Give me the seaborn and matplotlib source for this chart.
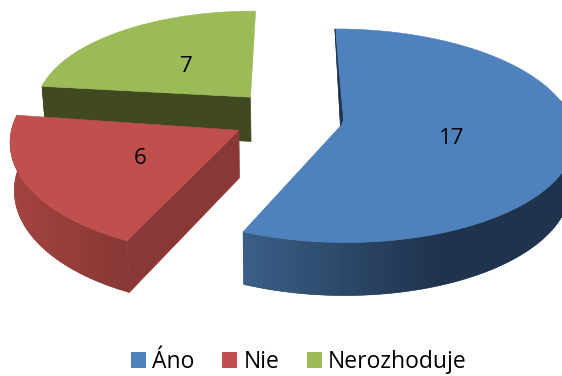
import numpy as np
import matplotlib
matplotlib.use("Agg")
import matplotlib.pyplot as plt
from matplotlib.colors import LinearSegmentedColormap
from matplotlib.patches import Patch, Polygon
import seaborn as sns

# Chart data
categories = ["Áno", "Nie", "Nerozhoduje"]
counts = [17, 6, 7]
top_colors = ["#4F81BD", "#C0504D", "#9BBB59"]
wall_light = ["#3B5F88", "#A44441", "#404A20"]
wall_dark = ["#1F334C", "#883835", "#404A20"]
radial_colors = ["#1F334C", "#8A3836", "#404920"]
shade_end_x = [440, 126, 260]

# Camera of the tilted, exploded pie, in pixel units
ORIGIN_X, ORIGIN_Y = 286, 121
SCALE_X, SCALE_Y = 232, 105
PERSPECTIVE = 0.09
EXPLODE = 0.232
BASE_SHRINK = 0.985

# Per-slice fine placement
slice_width = [1.0, 0.97, 0.93]
slice_height = [1.0, 1.05, 0.92]
slice_shift_x = [1.5, 0, 0]
slice_shift_y = [0, -3, -6]
slice_turn = [-0.3, 1.8, 0.7]
slice_depth = [48, 47, 45]

sns.set_theme(style="white")
plt.rcParams["font.family"] = ["Open Sans", "DejaVu Sans"]

fig = plt.figure(figsize=(5.62, 3.76), dpi=100)
ax = fig.add_axes([0, 0, 1, 1])


def project(i, theta, radius, offset, lower=False):
    """Map a polar position on slice i (clockwise from 12 o'clock) to the canvas."""
    turned = theta + np.radians(slice_turn[i])
    gx = offset[0]
    gy = offset[1]
    w0 = 1 - PERSPECTIVE * gy
    ax0, ay0 = SCALE_X * gx / w0, SCALE_Y * gy / w0
    gx += radius * np.sin(turned)
    gy -= radius * np.cos(turned)
    w = 1 - PERSPECTIVE * gy
    px = ax0 + (SCALE_X * gx / w - ax0) * slice_width[i]
    py = ay0 + (SCALE_Y * gy / w - ay0) * slice_height[i]
    y = ORIGIN_Y + slice_shift_y[i] + py
    x = ORIGIN_X + slice_shift_x[i]
    if lower:
        return x + px * BASE_SHRINK, y + slice_depth[i] / w
    return x + px, y


def fill(xs, ys, color, z):
    ax.fill(xs, ys, color=color, lw=0.4, ec=color, zorder=z)


shares = np.array(counts, dtype=float) / sum(counts) * 2 * np.pi
ends = np.cumsum(shares)
starts = ends - shares
z_order = {2: 1, 1: 2, 0: 3}

for i in [2, 1, 0]:
    a0, a1 = starts[i], ends[i]
    mid = (a0 + a1) / 2
    off = (EXPLODE * np.sin(mid), -EXPLODE * np.cos(mid))
    z = z_order[i] * 10

    # Straight cut walls that face the viewer
    if i in (1, 2):
        xt, yt = zip(project(i, a0, 0, off), project(i, a0, 1, off))
        xb, yb = zip(project(i, a0, 0, off, True), project(i, a0, 1, off, True))
        fill([*xt, xb[1], xb[0]], [*yt, yb[1], yb[0]], radial_colors[i], z)

    # Curved rim with a horizontal light-to-dark gradient
    lo = max(a0, np.pi / 2 - 0.25)
    hi = min(a1, 1.5 * np.pi + 0.15)
    if hi > lo:
        grid = np.linspace(lo, hi, 200)
        upper = np.array([project(i, a, 1, off) for a in grid])
        below = np.array([project(i, a, 1, off, True) for a in grid])
        outline = np.vstack([upper, below[::-1]])
        left = outline[:, 0].min()
        blend = sns.blend_palette([wall_light[i], wall_dark[i]], 64)
        fill(outline[:, 0], outline[:, 1],
             sns.blend_palette([wall_light[i], wall_dark[i]], 3)[1], z + 0.5)
        cmap = LinearSegmentedColormap.from_list("rim", blend)
        ramp = np.clip((np.linspace(left, 600, 400) - left) / (shade_end_x[i] - left), 0, 1)
        image = ax.imshow(ramp[None, :], cmap=cmap, vmin=0, vmax=1, aspect="auto",
                          extent=(left, 600, 320, 0), zorder=z + 1, interpolation="bilinear")
        image.set_clip_path(Polygon(outline, closed=True, transform=ax.transData))

    # Top face
    arc = np.linspace(a0, a1, 200)
    pts = [project(i, 0, 0, off)] + [project(i, a, 1, off) for a in arc]
    xs, ys = zip(*pts)
    fill(xs, ys, top_colors[i], z + 2)

    # Thin inner wall at the start of the largest slice
    if i == 0:
        ox, oy = project(i, a0, 0, off)
        tx, ty = project(i, a0, 1, off)
        fill([tx, ox, ox + 2.5, tx + 1], [ty, oy, oy - 6, ty + 12], radial_colors[i], z + 3)

    # Value label
    lx, ly = project(i, mid, 0.48, off)
    ax.text(lx, ly + 2, str(counts[i]), ha="center", va="center", fontsize=16,
            color="black", zorder=100)

ax.set_xlim(0, 562)
ax.set_ylim(376, 0)
ax.axis("off")

handles = [Patch(facecolor=c, edgecolor="none") for c in top_colors]
fig.legend(handles, categories, ncol=3, loc="lower center", bbox_to_anchor=(0.532, -0.05),
           frameon=False, fontsize=16.5, handlelength=0.65, handleheight=0.65,
           handletextpad=0.27, columnspacing=1.2, labelcolor="black")

fig.savefig("out.png", dpi=100)
